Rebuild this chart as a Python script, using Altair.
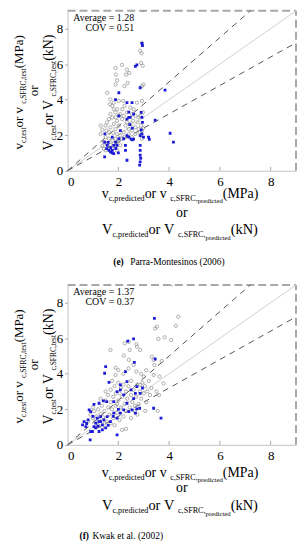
import altair as alt
import pandas as pd

# ---------------- data ----------------
# Panel (e) Parra-Montesinos (2006)
E_GRAY_X = [1.89, 1.90, 1.89, 1.95, 2.15, 2.30, 2.34, 2.43, 2.37, 2.24, 1.56, 1.69, 1.67, 1.82, 2.02, 2.19, 2.24, 1.30,
            2.93, 2.86, 2.92, 2.90, 2.96, 2.99, 2.93, 2.93, 2.97, 2.86, 2.90, 2.93, 2.89, 2.93, 2.97, 2.73, 2.60, 2.54,
            2.67, 2.58, 2.47, 2.41, 2.28, 2.34, 2.15, 2.08, 1.95, 1.89, 1.76, 1.69, 1.63, 1.56, 1.50, 1.54, 1.63, 1.69,
            1.82, 1.95, 2.02, 1.89, 1.80, 1.95, 2.08, 2.21, 2.24, 2.02, 1.89, 1.76, 1.63, 1.50, 1.43, 1.37, 1.56, 1.69,
            1.82, 1.95, 1.76, 1.89, 1.63, 1.50, 1.95, 2.08, 2.41, 2.54, 2.67, 2.76, 2.80, 2.47, 2.34, 2.15, 2.02, 2.21,
            1.82, 1.76, 1.89, 2.15, 2.54, 2.67, 1.30, 1.37, 1.43, 2.80, 2.84, 2.98]
E_GRAY_Y = [5.78, 5.41, 4.85, 5.09, 5.96, 5.41, 5.69, 5.50, 4.94, 4.76, 4.39, 4.02, 3.74, 3.83, 3.93, 3.93, 3.65, 2.54,
            7.20, 6.76, 6.61, 6.06, 5.91, 4.85, 4.76, 3.93, 3.28, 3.09, 2.54, 2.26, 1.98, 1.80, 2.39, 3.83, 3.46, 3.19,
            3.09, 2.81, 2.63, 2.35, 2.54, 2.72, 2.91, 3.19, 3.46, 3.28, 3.00, 3.19, 2.91, 2.72, 2.54, 2.26, 2.17, 2.44,
            2.63, 2.81, 2.54, 2.35, 2.13, 2.07, 1.98, 2.17, 1.89, 1.70, 1.80, 1.70, 1.80, 1.89, 1.61, 1.39, 1.52, 1.46,
            1.52, 1.61, 1.24, 1.33, 1.28, 1.15, 1.15, 1.43, 2.07, 2.26, 2.44, 2.72, 3.00, 3.56, 3.28, 3.46, 3.09, 3.09,
            3.46, 3.65, 3.00, 1.80, 1.89, 2.07, 2.07, 2.31, 1.24, 2.35, 2.17, 9.05]
E_BLUE_X = [2.93, 2.95, 2.73, 2.67, 2.86, 3.84, 1.89, 2.02, 3.45, 4.04, 4.17, 3.19, 3.22, 2.34, 2.86, 2.88, 2.86, 2.84,
            2.86, 2.86, 1.46, 2.93, 2.99, 2.86, 2.34, 2.54, 2.41, 2.47, 2.34, 2.60, 2.02, 2.21, 2.34, 2.41, 2.50, 2.55,
            2.60, 2.28, 2.28, 1.56, 1.54, 1.63, 1.69, 1.76, 1.82, 1.89, 1.95, 1.82, 1.46, 1.47, 2.08, 2.02, 1.76, 2.93,
            2.95, 2.90, 2.41, 1.70, 1.90, 1.60, 2.00, 1.75, 2.45, 2.55, 2.90]
E_BLUE_Y = [7.17, 7.05, 5.96, 5.87, 4.67, 4.54, 4.00, 4.39, 2.85, 2.11, 1.61, 1.89, 1.76, 0.59, 0.87, 0.69, 0.50, 0.31,
            1.15, 1.43, 0.78, 2.07, 1.89, 1.98, 3.83, 3.83, 3.00, 3.00, 2.90, 3.19, 3.09, 1.80, 1.98, 1.89, 1.78, 1.74,
            1.78, 1.43, 1.15, 1.43, 1.24, 1.15, 1.06, 1.15, 1.43, 1.61, 1.43, 0.96, 1.61, 2.07, 2.26, 1.80, 1.89, 3.00,
            2.72, 3.28, 3.30, 1.30, 1.25, 1.60, 1.00, 1.00, 2.60, 2.40, 2.30]

# Panel (f) Kwak et al. (2002)
F_GRAY_X = [1.69, 1.89, 1.89, 2.21, 2.15, 2.25, 2.41, 2.41, 2.45, 2.73, 2.71, 2.86, 3.32, 3.39, 3.42, 3.45, 3.52, 3.58,
            3.82, 4.08, 4.27, 4.36, 3.71, 3.78, 3.62, 3.55, 3.06, 3.39, 3.00, 2.86, 2.71, 4.10,
            0.90, 1.00, 1.05, 1.10, 1.15, 1.20, 1.25, 1.30, 1.35, 1.40, 1.45, 1.50, 1.55, 1.60, 1.60, 1.65, 1.70, 1.70,
            1.75, 1.80, 1.80, 1.85, 1.90, 1.90, 1.95, 2.00, 2.00, 2.05, 2.10, 2.10, 2.15, 2.20, 2.20, 2.25, 2.30, 2.30,
            2.35, 2.40, 2.45, 2.50, 2.50, 2.55, 2.60, 2.65, 2.70, 2.75, 2.80, 2.85, 2.90, 2.95, 3.00, 3.05, 3.10, 3.15,
            3.20, 3.25, 3.30, 1.30, 1.45, 1.20, 0.80, 1.00, 1.50, 2.20, 2.60, 2.00, 1.75, 2.40, 2.90, 3.10, 3.50, 3.60,
            2.05, 2.50, 2.75, 1.85, 1.35, 2.30, 2.65, 1.95, 1.70]
F_GRAY_Y = [5.34, 4.34, 3.93, 5.02, 0.84, 5.71, 5.80, 4.78, 5.34, 5.52, 5.67, 5.34, 4.96, 4.78, 4.49, 6.55, 6.65, 5.96,
            6.05, 5.90, 6.70, 7.21, 4.72, 3.46, 3.84, 1.91, 1.91, 3.93, 3.84, 3.37, 4.12, 9.05,
            1.70, 1.50, 1.90, 1.30, 1.60, 2.00, 1.40, 1.75, 2.20, 1.55, 1.90, 2.50, 1.30, 2.10, 2.80, 1.70, 2.40, 3.10,
            2.00, 2.70, 1.50, 3.30, 2.20, 2.90, 1.80, 2.50, 3.50, 2.90, 2.10, 3.20, 2.70, 1.60, 3.40, 2.30, 3.00, 1.90,
            2.60, 3.30, 2.10, 2.80, 3.60, 2.40, 3.10, 1.90, 2.70, 3.40, 2.30, 3.00, 2.60, 3.50, 2.90, 3.30, 2.40, 3.00,
            3.60, 2.80, 3.20, 2.60, 1.20, 1.10, 1.30, 2.10, 3.00, 4.00, 4.50, 4.20, 3.60, 4.30, 4.00, 4.20, 3.00, 2.80,
            1.40, 1.50, 1.70, 1.10, 1.00, 0.90, 2.20, 2.30, 1.20]
F_BLUE_X = [3.42, 2.37, 2.60, 2.63, 1.50, 1.46, 1.63, 3.45, 3.39, 3.68, 1.95, 0.89, 0.59, 0.65, 0.72, 0.81, 0.85, 0.91,
            0.98, 1.04, 1.11, 1.17, 1.24, 1.30, 1.37, 1.43, 1.04, 1.24, 1.41, 1.54, 1.82, 1.95, 2.08, 2.21, 2.34, 2.50,
            2.67, 2.73, 2.86, 2.41, 2.54, 2.67, 2.73, 2.84, 2.21, 2.08, 1.82, 1.56, 1.30, 1.69, 1.95, 1.37, 1.24, 0.91,
            2.34, 2.28, 2.08, 1.00, 1.10, 0.75, 1.20, 1.60, 1.80, 2.00, 2.95, 2.60, 1.50]
F_BLUE_Y = [7.12, 5.84, 5.96, 4.64, 4.40, 4.03, 3.52, 4.83, 2.06, 1.50, 0.56, 0.28, 1.12, 1.31, 1.03, 1.40, 1.97, 1.87,
            0.75, 1.03, 1.22, 1.50, 1.31, 1.59, 1.12, 1.40, 2.28, 2.34, 2.47, 2.43, 2.43, 3.00, 3.09, 2.81, 2.34, 3.09,
            2.90, 3.28, 2.90, 1.87, 1.97, 1.78, 2.02, 2.06, 1.97, 1.78, 1.78, 1.59, 1.31, 1.31, 1.50, 0.84, 0.75, 0.75,
            3.56, 4.12, 3.37, 1.60, 0.95, 1.20, 1.05, 1.10, 1.60, 2.00, 3.20, 2.60, 0.95]

AXIS_MAX = 9
X_TICKS = [0, 2, 4, 6, 8]
Y_TICKS = [0, 2, 4, 6, 8]
GUIDE_SLOPES_DASHED = [0.8, 1.25]
GUIDE_SLOPES_SOLID = [1.0]
AVERAGES = ["1.28", "1.37"]
COVS = ["0.51", "0.37"]
CAPTION_TAGS = ["(e)", "(f)"]
CAPTION_TEXTS = ["Parra-Montesinos (2006)", "Kwak et al. (2002)"]

# ---------------- layout / style ----------------
W, H = 230, 161
FONT = "Liberation Serif"
GRAY = "#8c8c8c"
BLUE = "#1c1cd6"
SP = "\u00a0"  # non-breaking space (SVG drops leading/trailing normal spaces)

TIMES = {' ': 250, SP: 250, ',': 250, '.': 250, '(': 333, ')': 333, '=': 564, '-': 333,
         'a': 444, 'b': 500, 'c': 444, 'd': 500, 'e': 444, 'f': 333, 'g': 500, 'h': 500, 'i': 278,
         'j': 278, 'k': 500, 'l': 278, 'm': 778, 'n': 500, 'o': 500, 'p': 500, 'q': 500, 'r': 333,
         's': 389, 't': 278, 'u': 500, 'v': 500, 'w': 722, 'x': 500, 'y': 500, 'z': 444,
         'A': 722, 'C': 667, 'F': 556, 'K': 722, 'M': 889, 'N': 722, 'P': 556, 'R': 667, 'S': 556, 'V': 722}


def tw(s, size):
    return sum(TIMES.get(ch, 500) for ch in s) * size / 1000.0


def rich(segs, cx, cy, angle=0):
    """segs: list of (text, size, baseline shift). Centered at (cx, cy) along the run."""
    segs = [(t.replace(" ", SP), s, d) for t, s, d in segs]
    total = sum(tw(t, s) for t, s, _ in segs)
    rows = []
    if angle == 0:
        cur = cx - total / 2
        for t, s, d in segs:
            rows.append({"t": t, "x": cur, "y": cy + d, "s": s, "a": 0})
            cur += tw(t, s)
    else:
        cur = cy + total / 2
        for t, s, d in segs:
            rows.append({"t": t, "x": cx + d, "y": cur, "s": s, "a": 270})
            cur -= tw(t, s)
    return rows


def panel(gx, gy, bx, by, avg, cov, tag, cap, xt_off, tag_x, cap_x):
    gray = pd.DataFrame({"x": gx, "y": gy})
    blue = pd.DataFrame({"x": bx, "y": by})
    xs = alt.Scale(domain=[0, AXIS_MAX], nice=False, zero=False)
    ys = alt.Scale(domain=[0, AXIS_MAX], nice=False, zero=False)
    xax = alt.Axis(values=X_TICKS, title=None, grid=False, ticks=False, domainColor="#c4c4c4",
                   labelFont=FONT, labelFontSize=13, labelColor="black", labelPadding=5, format="d")
    yax = alt.Axis(values=Y_TICKS, title=None, grid=False, ticks=True, tickSize=3, tickColor="#aaaaaa",
                   domainColor="#c4c4c4", labelFont=FONT, labelFontSize=13, labelColor="black",
                   labelPadding=2, format="d")

    # dashed frame (top and right)
    frame = pd.DataFrame({"x": [0, AXIS_MAX], "x2": [AXIS_MAX, AXIS_MAX],
                          "y": [AXIS_MAX, 0], "y2": [AXIS_MAX, AXIS_MAX]})
    frame_l = alt.Chart(frame).mark_rule(color="#a8a8a8", strokeWidth=2, strokeDash=[8, 4]).encode(
        x=alt.X("x:Q", scale=xs, axis=xax), x2="x2", y=alt.Y("y:Q", scale=ys, axis=yax), y2="y2")

    def guide(slopes):
        return pd.DataFrame({"x": [0.0] * len(slopes), "y": [0.0] * len(slopes),
                             "x2": [min(AXIS_MAX, AXIS_MAX / s) for s in slopes],
                             "y2": [min(AXIS_MAX, AXIS_MAX * s) for s in slopes]})

    dashed = alt.Chart(guide(GUIDE_SLOPES_DASHED)).mark_rule(
        color="#555555", strokeWidth=1, strokeDash=[6, 5]).encode(
        x=alt.X("x:Q", scale=xs), x2="x2", y=alt.Y("y:Q", scale=ys), y2="y2")
    solid = alt.Chart(guide(GUIDE_SLOPES_SOLID)).mark_rule(
        color="#d0d0d0", strokeWidth=1).encode(
        x=alt.X("x:Q", scale=xs), x2="x2", y=alt.Y("y:Q", scale=ys), y2="y2")

    xticks = alt.Chart(pd.DataFrame({"x": X_TICKS[1:]})).mark_rule(color="#aaaaaa").encode(
        x=alt.X("x:Q", scale=xs), y=alt.value(H), y2=alt.value(H - 4))

    pts_g = alt.Chart(gray).mark_point(shape="circle", filled=False, color=GRAY, size=11,
                                       strokeWidth=0.7, opacity=1, clip=True).encode(
        x=alt.X("x:Q", scale=xs), y=alt.Y("y:Q", scale=ys))
    pts_b = alt.Chart(blue).mark_point(shape="square", filled=True, color=BLUE, size=8,
                                       opacity=1, clip=True).encode(
        x=alt.X("x:Q", scale=xs), y=alt.Y("y:Q", scale=ys))

    # annotation texts (pixel positions relative to plot area)
    rows = []
    rows += rich([("v", 13, 0), ("c,test", 7.5, 3), (" or v", 13, 0), ("c,SFRC,test", 7.5, 3),
                  (" (MPa)", 13, 0)], -45, H / 2, 270)
    rows += rich([("or", 13, 0)], -30, H / 2, 270)
    rows += rich([("V", 14, 0), ("c,test", 7.5, 3), (" or V", 14, 0), ("c,SFRC,test", 7.5, 3),
                  (" (kN)", 14, 0)], -15, H / 2, 270)
    rows += rich([("v", 14, 0), ("c,predicted", 8.2, 3), (" or v", 14, 0), ("c,SFRC,", 8.2, 3),
                  ("predicted", 6.8, 5.5), (" (MPa)", 14, 0)], W / 2, H + xt_off[0])
    rows += rich([("or", 14, 0)], W / 2, H + xt_off[1])
    rows += rich([("V", 14.5, 0), ("c,predicted", 8.2, 3), (" or V", 14.5, 0), ("c,SFRC,", 8.2, 3),
                  ("predicted", 6.8, 5.5), (" (kN)", 14.5, 0)], W / 2, H + xt_off[2])
    rows.append({"t": cap, "x": cap_x, "y": H + 95, "s": 9.5, "a": 0})
    tdf = pd.DataFrame(rows)
    texts = alt.Chart(tdf).mark_text(align="left", baseline="alphabetic", font=FONT, color="black").encode(
        x=alt.X("x:Q", scale=None), y=alt.Y("y:Q", scale=None), text="t:N",
        size=alt.Size("s:Q", scale=None, legend=None), angle=alt.Angle("a:Q", scale=None, legend=None))

    tagdf = pd.DataFrame({"t": [tag], "x": [tag_x], "y": [H + 95]})
    tag_l = alt.Chart(tagdf).mark_text(align="left", baseline="alphabetic", font=FONT, fontSize=9.5,
                                       fontWeight="bold", color="black").encode(
        x=alt.X("x:Q", scale=None), y=alt.Y("y:Q", scale=None), text="t:N")

    legdf = pd.DataFrame({"t": ["Average = " + avg, "COV = " + cov], "x": [67, 67], "y": [10, 20]})
    leg = alt.Chart(legdf).mark_text(align="right", baseline="alphabetic", font=FONT, fontSize=10,
                                     color="black").encode(
        x=alt.X("x:Q", scale=None), y=alt.Y("y:Q", scale=None), text="t:N")

    return alt.layer(frame_l, solid, dashed, xticks, pts_g, pts_b, leg, texts, tag_l).properties(
        width=W, height=H)


p1 = panel(E_GRAY_X, E_GRAY_Y, E_BLUE_X, E_BLUE_Y, AVERAGES[0], COVS[0], CAPTION_TAGS[0], CAPTION_TEXTS[0],
           (27, 47, 64), 46, 63)
p2 = panel(F_GRAY_X, F_GRAY_Y, F_BLUE_X, F_BLUE_Y, AVERAGES[1], COVS[1], CAPTION_TAGS[1], CAPTION_TEXTS[1],
           (32, 48, 66), 12, 25)

chart = alt.vconcat(p1, p2, spacing=115, bounds="flush").properties(
    padding={"left": 5, "top": 0, "right": 0, "bottom": 0}
).configure_view(stroke=None)

chart.save("out.html", embed_options={"renderer": "svg", "actions": False})
